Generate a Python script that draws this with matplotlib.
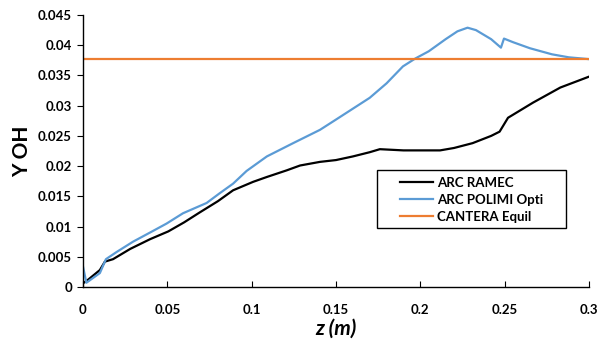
import numpy as np
import matplotlib.pyplot as plt
from matplotlib.patches import Rectangle

# ==========================================
# 資料
# ==========================================
z_ramec = [0.0, 0.003, 0.01, 0.013, 0.0178, 0.028, 0.0397, 0.0506, 0.06, 0.069, 0.08, 0.089,
           0.1009, 0.109, 0.1208, 0.1287, 0.1405, 0.15, 0.16, 0.17, 0.176, 0.19,
           0.2117, 0.22, 0.231, 0.242, 0.247, 0.252, 0.2668, 0.283, 0.3]
y_ramec = [0.0006, 0.0012, 0.0028, 0.0042, 0.0046, 0.0063, 0.0079, 0.0092, 0.0107, 0.0123, 0.0142, 0.016,
           0.0174, 0.0182, 0.0193, 0.0201, 0.0207, 0.021, 0.0216, 0.0223, 0.0228, 0.0226,
           0.0226, 0.023, 0.0238, 0.025, 0.0257, 0.028, 0.0305, 0.033, 0.0348]

z_polimi = [0.0, 0.002, 0.01, 0.0136, 0.02, 0.0297, 0.0397, 0.0496, 0.0593, 0.0733,
            0.081, 0.089, 0.097, 0.109, 0.1246, 0.1405, 0.15, 0.16, 0.17, 0.18, 0.1897,
            0.197, 0.205, 0.215, 0.222, 0.228, 0.233, 0.242, 0.2478, 0.2496, 0.255,
            0.265, 0.278, 0.288, 0.3]
y_polimi = [0.0034, 0.0007, 0.0023, 0.0046, 0.0058, 0.0075, 0.009, 0.0105, 0.0122, 0.0139,
            0.0155, 0.0171, 0.0192, 0.0216, 0.0238, 0.026, 0.0277, 0.0295, 0.0313, 0.0337, 0.0365,
            0.0378, 0.039, 0.041, 0.0423, 0.0429, 0.0425, 0.041, 0.0396, 0.0411, 0.0405,
            0.0395, 0.0385, 0.038, 0.0377]

z_equil = [0.0, 0.3]
y_equil = [0.0378, 0.0378]

plt.rcParams['font.family'] = ['Lato', 'DejaVu Sans']

fig = plt.figure(figsize=(6.12, 3.54), dpi=100)
ax = fig.add_axes([0.1356, 0.1893, 0.8268, 0.7683])

ax.plot(z_ramec, y_ramec, color='black', lw=1.6, label='ARC RAMEC')
ax.plot(z_polimi, y_polimi, color='#5B9BD5', lw=1.6, label='ARC POLIMI Opti')
ax.plot(z_equil, y_equil, color='#ED7D31', lw=1.6, label='CANTERA Equil')

ax.set_xlim(0, 0.3)
ax.set_ylim(0, 0.045)
ax.set_xticks(np.arange(0, 0.301, 0.05))
ax.set_xticklabels(['0', '0.05', '0.1', '0.15', '0.2', '0.25', '0.3'])
ax.set_yticks(np.arange(0, 0.0451, 0.005))
ax.set_yticklabels(['0', '0.005', '0.01', '0.015', '0.02', '0.025', '0.03',
                    '0.035', '0.04', '0.045'])

for s in ['top', 'right']:
    ax.spines[s].set_visible(False)
for s in ['left', 'bottom']:
    ax.spines[s].set_linewidth(1.0)

ax.tick_params(axis='x', direction='in', length=4, pad=12, labelsize=9.5)
ax.tick_params(axis='y', direction='out', length=4, pad=4, labelsize=9.5)
for lb in ax.get_xticklabels() + ax.get_yticklabels():
    lb.set_fontweight('bold')

ax.set_xlabel('z (m)', fontsize=15, fontweight='bold', fontstyle='italic', labelpad=2)
ax.set_ylabel('Y OH', fontsize=15, fontweight='bold', labelpad=4)

# 圖例 (外框另畫，模仿 Excel 的寬邊距)
leg = ax.legend(loc='center left', bbox_to_anchor=(0.6265, 0.32), borderaxespad=0,
                borderpad=0, frameon=False, handlelength=2.5, handletextpad=0.3,
                labelspacing=0.38, prop={'weight': 'bold', 'size': 9.5})
ax.add_patch(Rectangle((0.581, 0.217), 0.3735, 0.213, transform=ax.transAxes,
                       facecolor='white', edgecolor='black', lw=1.0, zorder=4))
leg.set_zorder(5)

plt.savefig('out.png', dpi=100)
